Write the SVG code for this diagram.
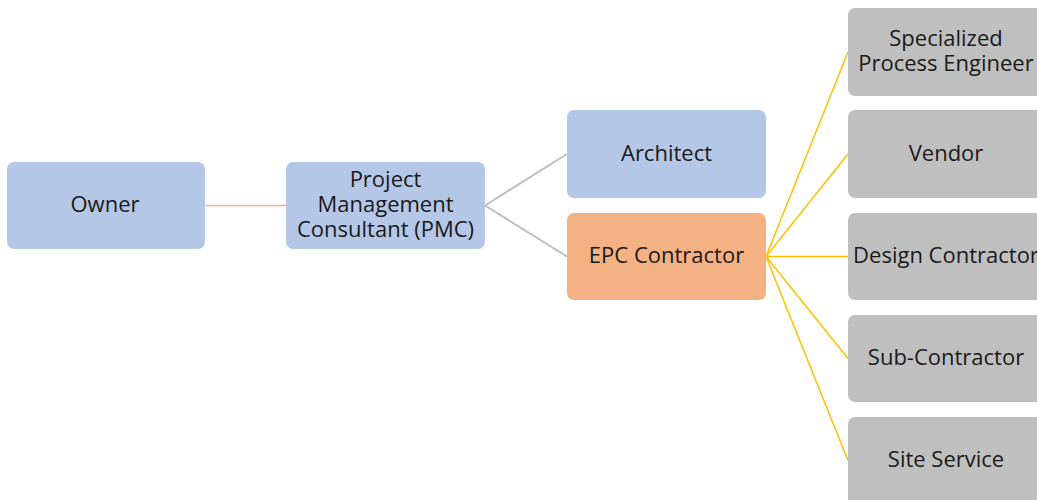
<svg xmlns="http://www.w3.org/2000/svg" width="1037" height="500" viewBox="0 0 1037 500">
  <style>
    .box { stroke: none; }
    .blue { fill: #B4C7E7; }
    .orange { fill: #F4B183; }
    .gray { fill: #BFBFBF; }
    .lbl { font-family: "Open Sans", "Liberation Sans", sans-serif; font-size: 22px; fill: #1a1a1a; text-anchor: middle; }
    .c-owner { stroke: #F4B183; stroke-width: 1.5; fill: none; }
    .c-pmc { stroke: #BFBFBF; stroke-width: 2; fill: none; }
    .c-epc { stroke: #FFC000; stroke-width: 1.5; fill: none; }
  </style>
  <rect width="1037" height="500" fill="#FFFFFF"/>

  <!-- connectors -->
  <g id="connectors">
    <line class="c-owner" x1="205" y1="205.5" x2="286" y2="205.5"/>
    <line class="c-pmc" x1="485" y1="205.5" x2="567" y2="154"/>
    <line class="c-pmc" x1="485" y1="205.5" x2="567" y2="256.5"/>
    <line class="c-epc" x1="766" y1="256.5" x2="848" y2="52"/>
    <line class="c-epc" x1="766" y1="256.5" x2="848" y2="154"/>
    <line class="c-epc" x1="766" y1="256.5" x2="848" y2="256.5"/>
    <line class="c-epc" x1="766" y1="256.5" x2="848" y2="358.5"/>
    <line class="c-epc" x1="766" y1="256.5" x2="848" y2="460.5"/>
  </g>

  <g id="owner">
    <rect class="box blue" x="7" y="162" width="198" height="87" rx="7"/>
    <text class="lbl" x="105" y="212">Owner</text>
  </g>

  <g id="pmc">
    <rect class="box blue" x="286" y="162" width="199" height="87" rx="7"/>
    <text class="lbl" x="385.5" y="187">Project</text>
    <text class="lbl" x="385.5" y="212">Management</text>
    <text class="lbl" x="385.5" y="237">Consultant (PMC)</text>
  </g>

  <g id="architect">
    <rect class="box blue" x="567" y="110" width="199" height="88" rx="7"/>
    <text class="lbl" x="666.5" y="161">Architect</text>
  </g>

  <g id="epc">
    <rect class="box orange" x="567" y="213" width="199" height="87" rx="7"/>
    <text class="lbl" x="666.5" y="263">EPC Contractor</text>
  </g>

  <g id="specialized-process-engineer">
    <rect class="box gray" x="848" y="8" width="199" height="88" rx="7"/>
    <text class="lbl" x="946" y="46">Specialized</text>
    <text class="lbl" x="946" y="71">Process Engineer</text>
  </g>

  <g id="vendor">
    <rect class="box gray" x="848" y="110" width="199" height="88" rx="7"/>
    <text class="lbl" x="946" y="161">Vendor</text>
  </g>

  <g id="design-contractor">
    <rect class="box gray" x="848" y="213" width="199" height="87" rx="7"/>
    <text class="lbl" x="946" y="263">Design Contractor</text>
  </g>

  <g id="sub-contractor">
    <rect class="box gray" x="848" y="315" width="199" height="87" rx="7"/>
    <text class="lbl" x="946" y="365">Sub-Contractor</text>
  </g>

  <g id="site-service">
    <rect class="box gray" x="848" y="417" width="199" height="88" rx="7"/>
    <text class="lbl" x="946" y="467">Site Service</text>
  </g>
</svg>
